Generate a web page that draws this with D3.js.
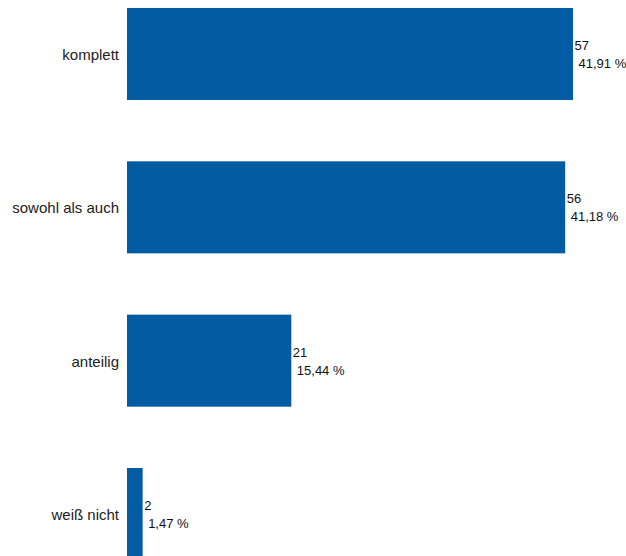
<!DOCTYPE html>
<html>
<head>
<meta charset="utf-8">
<script src="https://cdn.jsdelivr.net/npm/d3@7"></script>
<style>
  html, body { margin: 0; padding: 0; background: #fff; overflow: hidden; }
  svg { display: block; font-family: "Liberation Sans", Arial, Helvetica, sans-serif; }
</style>
</head>
<body>
<svg id="chart" width="626" height="556"></svg>
<script>
// Antworten und Häufigkeiten
const categories = ["komplett", "sowohl als auch", "anteilig", "weiß nicht"];
const counts = [57, 56, 21, 2];
const percentLabels = ["41,91 %", "41,18 %", "15,44 %", "1,47 %"];

const svg = d3.select("#chart");

const x = d3.scaleLinear()
  .domain([0, d3.max(counts)])
  .range([127, 573]);

const y = d3.scaleBand()
  .domain(categories)
  .range([-22.7, 590.7])
  .paddingInner(0.4)
  .paddingOuter(0.2);

const rows = categories.map((c, i) => ({ cat: c, n: counts[i], pct: percentLabels[i] }));

const g = svg.selectAll("g.row")
  .data(rows)
  .join("g")
  .attr("class", "row");

g.append("rect")
  .attr("x", x(0))
  .attr("y", d => y(d.cat))
  .attr("width", d => x(d.n) - x(0))
  .attr("height", y.bandwidth())
  .attr("fill", "#035ba3");

g.append("text")
  .attr("x", x(0) - 8)
  .attr("y", d => y(d.cat) + y.bandwidth() / 2 + 6)
  .attr("text-anchor", "end")
  .attr("font-size", 15)
  .attr("fill", "#222")
  .text(d => d.cat);

g.append("text")
  .attr("x", d => x(d.n) + 1.5)
  .attr("y", d => y(d.cat) + y.bandwidth() / 2 - 4)
  .attr("font-size", 13)
  .attr("fill", "#111")
  .text(d => d.n);

g.append("text")
  .attr("x", d => x(d.n) + 5.5)
  .attr("y", d => y(d.cat) + y.bandwidth() / 2 + 14)
  .attr("font-size", 13)
  .attr("fill", "#111")
  .text(d => d.pct);
</script>
</body>
</html>
